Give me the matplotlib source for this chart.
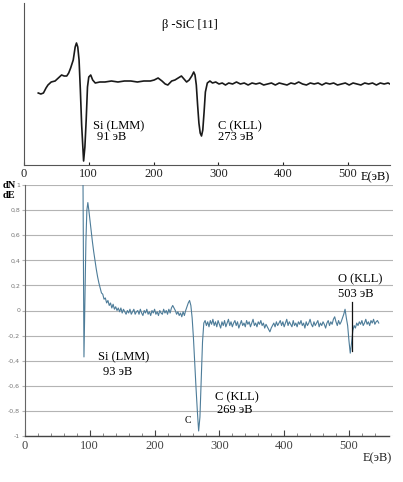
import matplotlib
matplotlib.use("Agg")
import matplotlib.pyplot as plt
import numpy as np

plt.rcParams['font.family'] = ['Liberation Serif', 'DejaVu Serif']

# --- top panel: beta-SiC reference spectrum (arbitrary units) ---
top_e = [22, 26, 30, 34, 37, 42, 48, 53, 58, 62, 66, 69, 72, 76, 79, 81, 83, 85, 87,
         89, 92, 94, 96, 98, 100, 103, 106, 110, 117, 125, 135, 145, 155, 165, 175,
         185, 195, 201, 207, 213, 218, 222, 228, 233, 238, 243, 247, 251, 255, 259,
         262, 264, 266, 268, 270, 272, 274, 276, 278, 280, 283, 287, 291, 296, 301,
         306, 311, 316, 322, 328, 334, 340, 346, 352, 358, 364, 370, 376, 382, 388,
         394, 400, 406, 412, 418, 424, 430, 436, 442, 448, 454, 460, 466, 472, 478,
         484, 490, 496, 502, 508, 514, 520, 526, 532, 538, 544, 550, 556, 562, 568]
top_v = [72, 71, 72, 77, 80, 83, 84, 87, 90, 89, 89, 92, 97, 105, 118, 122, 118, 105, 75,
         40, 4, 18, 45, 78, 88, 90, 85, 82, 83, 83, 84, 83, 84, 84, 83,
         84, 84, 85, 87, 84, 81, 80, 84, 85, 87, 89, 86, 83, 85, 89,
         93, 90, 80, 60, 42, 32, 29, 35, 53, 73, 82, 84, 82, 83, 81,
         82, 80, 82, 81, 83, 81, 82, 80, 82, 81, 82, 80, 81, 82, 80,
         82, 81, 80, 82, 81, 83, 81, 80, 82, 81, 82, 80, 82, 81, 82,
         80, 81, 82, 80, 82, 81, 80, 82, 81, 82, 80, 82, 81, 82, 80]

# --- bottom panel: measured dN/dE ---
bot_e = [89.5, 91, 92.5, 94, 95.5, 97, 98.5, 100, 102, 104, 106, 108, 110, 112, 114,
         116, 118, 120, 122, 124, 126, 128, 130, 132, 134, 136, 138, 140, 142, 144,
         146, 148, 150, 152, 154, 156, 158, 160, 162, 164, 166, 168, 170, 172, 174,
         176, 178, 180, 182, 184, 186, 188, 190, 192, 194, 196, 198, 200, 202, 204,
         206, 208, 210, 212, 214, 216, 218, 220, 222, 224, 226, 228, 230, 232, 234,
         236, 238, 240, 242, 244, 246, 248, 250, 252, 254, 256, 258, 260, 262, 264,
         266, 268, 270, 272, 274, 276, 278, 280, 282, 284, 286, 288, 290, 292, 294,
         296, 298, 300, 302, 304, 306, 308, 310, 312, 314, 316, 318, 320, 322, 324,
         326, 328, 330, 332, 334, 336, 338, 340, 342, 344, 346, 348, 350, 352, 354,
         356, 358, 360, 362, 364, 366, 368, 370, 372, 374, 376, 378, 380, 382, 384,
         386, 388, 390, 392, 394, 396, 398, 400, 402, 404, 406, 408, 410, 412, 414,
         416, 418, 420, 422, 424, 426, 428, 430, 432, 434, 436, 438, 440, 442, 444,
         446, 448, 450, 452, 454, 456, 458, 460, 462, 464, 466, 468, 470, 472, 474,
         476, 478, 480, 482, 484, 486, 488, 490, 492, 494, 496, 498, 500, 502, 504,
         506, 508, 510, 512, 514, 516, 518, 520, 522, 524, 526, 528, 530, 532, 534,
         536, 538, 540, 542, 544, 546]
bot_v = [1.05, -0.37, 0.10, 0.55, 0.80, 0.86, 0.80, 0.73, 0.64, 0.55, 0.47, 0.40, 0.33, 0.27, 0.22,
         0.18, 0.14, 0.13, 0.09, 0.10, 0.06, 0.08, 0.04, 0.06, 0.02, 0.05, 0.01, 0.03, 0.00, 0.02,
         -0.01, 0.02, -0.02, 0.01, -0.01, -0.03, 0.00, -0.02, 0.01, -0.03, -0.01, 0.01, -0.03, -0.01, 0.00,
         -0.03, 0.01, -0.02, -0.04, 0.00, -0.02, 0.01, -0.03, -0.01, -0.04, 0.00, -0.02, 0.01, -0.03, -0.01,
         -0.04, 0.00, -0.02, -0.03, 0.01, -0.02, 0.00, -0.03, 0.01, -0.02, 0.02, 0.04, 0.02, 0.00, -0.03,
         -0.01, -0.04, -0.02, -0.05, -0.01, -0.04, 0.00, 0.03, 0.06, 0.08, 0.04, -0.06, -0.22, -0.42, -0.62,
         -0.80, -0.96, -0.85, -0.55, -0.25, -0.10, -0.08, -0.12, -0.09, -0.13, -0.08, -0.11, -0.07, -0.12, -0.09,
         -0.13, -0.08, -0.11, -0.14, -0.09, -0.12, -0.08, -0.13, -0.10, -0.07, -0.12, -0.09, -0.13, -0.10, -0.08,
         -0.12, -0.09, -0.14, -0.11, -0.08, -0.12, -0.10, -0.13, -0.08, -0.11, -0.09, -0.13, -0.10, -0.07, -0.12,
         -0.10, -0.13, -0.09, -0.11, -0.08, -0.12, -0.10, -0.14, -0.11, -0.13, -0.15, -0.17, -0.14, -0.12, -0.10,
         -0.13, -0.09, -0.12, -0.10, -0.08, -0.12, -0.09, -0.13, -0.10, -0.07, -0.12, -0.09, -0.11, -0.13, -0.08,
         -0.12, -0.10, -0.13, -0.09, -0.11, -0.08, -0.12, -0.10, -0.14, -0.09, -0.12, -0.10, -0.07, -0.11, -0.13,
         -0.09, -0.12, -0.10, -0.08, -0.13, -0.10, -0.12, -0.09, -0.11, -0.14, -0.10, -0.08, -0.12, -0.09, -0.11,
         -0.07, -0.05, -0.09, -0.12, -0.08, -0.11, -0.09, -0.06, -0.03, 0.01, -0.06, -0.12, -0.24, -0.34, -0.26,
         -0.16, -0.12, -0.14, -0.10, -0.12, -0.09, -0.11, -0.08, -0.12, -0.10, -0.07, -0.11, -0.09, -0.12, -0.08,
         -0.10, -0.07, -0.11, -0.09, -0.08, -0.10]

yticks = [1, 0.8, 0.6, 0.4, 0.2, 0, -0.2, -0.4, -0.6, -0.8, -1]
ytick_labels = ['1', '0,8', '0,6', '0,4', '0,2', '0', '-0,2', '-0,4', '-0,6', '-0,8', '-1']
xticks = [0, 100, 200, 300, 400, 500]

W, H = 403, 482
fig = plt.figure(figsize=(W / 100, H / 100), dpi=100)

def box(left, top, right, bottom):
    return [left / W, 1 - bottom / H, (right - left) / W, (bottom - top) / H]

# top chart
ax1 = fig.add_axes(box(24, 3, 390, 165))
ax1.plot(top_e, top_v, color='#1a1a1a', lw=1.2)
ax1.set_xlim(0, 565)
ax1.set_ylim(0, 162)
ax1.set_yticks([])
ax1.set_xticks(xticks)
ax1.tick_params(axis='x', direction='in', length=2, labelsize=9, pad=2, colors='#222222')
for s in ['top', 'right']:
    ax1.spines[s].set_visible(False)
for s in ['left', 'bottom']:
    ax1.spines[s].set_color('#555555')
    ax1.spines[s].set_linewidth(0.8)
ax1.text(256, 140, 'β -SiC [11]', fontsize=9, ha='center', va='center')
ax1.text(107, 39, 'Si (LMM)', fontsize=9, va='center')
ax1.text(113, 28, '91 эВ', fontsize=9, va='center')
ax1.text(299, 39, 'C (KLL)', fontsize=9, va='center')
ax1.text(299, 28, '273 эВ', fontsize=9, va='center')
ax1.text(543, -0.075, 'E(эВ)', fontsize=9, ha='center', va='center',
         transform=ax1.get_xaxis_transform())

# bottom chart
ax2 = fig.add_axes(box(25, 185, 393, 436))
ax2.set_xlim(0, 568)
ax2.set_ylim(-1, 1)
for y in yticks:
    ax2.axhline(y, color='#b4b4b4', lw=0.8, zorder=0)
ax2.plot(bot_e, bot_v, color='#4d7c99', lw=0.8, zorder=2)
ax2.set_yticks(yticks)
ax2.set_yticklabels(ytick_labels, fontsize=4.5, color='#777777', family='DejaVu Sans')
ax2.tick_params(axis='y', length=2.5, color='#b4b4b4', pad=1)
ax2.set_xticks(xticks)
ax2.set_xticks(np.arange(20, 560, 20), minor=True)
ax2.tick_params(axis='x', which='major', direction='in', length=4, labelsize=9,
                pad=3, colors='#444444')
ax2.tick_params(axis='x', which='minor', direction='in', length=2, color='#777777')
for s in ['top', 'right']:
    ax2.spines[s].set_visible(False)
ax2.spines['left'].set_color('#666666')
ax2.spines['left'].set_linewidth(0.8)
ax2.spines['bottom'].set_color('#444444')
ax2.spines['bottom'].set_linewidth(1.0)
ax2.spines['bottom'].set_bounds(0, 562)

ax2.text(113, -0.37, 'Si (LMM)', fontsize=9, va='center')
ax2.text(120, -0.49, '93 эВ', fontsize=9, va='center')
ax2.text(247, -0.88, 'C', fontsize=7, va='center')
ax2.text(294, -0.69, 'C (KLL)', fontsize=9, va='center')
ax2.text(297, -0.79, '269 эВ', fontsize=9, va='center')
ax2.text(483, 0.245, 'O (KLL)', fontsize=9, va='center')
ax2.text(483, 0.135, '503 эВ', fontsize=9, va='center')
ax2.plot([505, 505], [0.065, -0.32], color='#111111', lw=0.9, zorder=3)
ax2.text(543, -0.09, 'E(эВ)', fontsize=9, ha='center', va='center',
         transform=ax2.get_xaxis_transform(), color='#222222')

fig.text(3 / W, 1 - 186 / H, 'dN', fontsize=7.5, va='center', fontweight='bold')
fig.text(3 / W, 1 - 195 / H, 'dE', fontsize=7.5, va='center', fontweight='bold')

fig.savefig('out.png', dpi=100, facecolor='white')
